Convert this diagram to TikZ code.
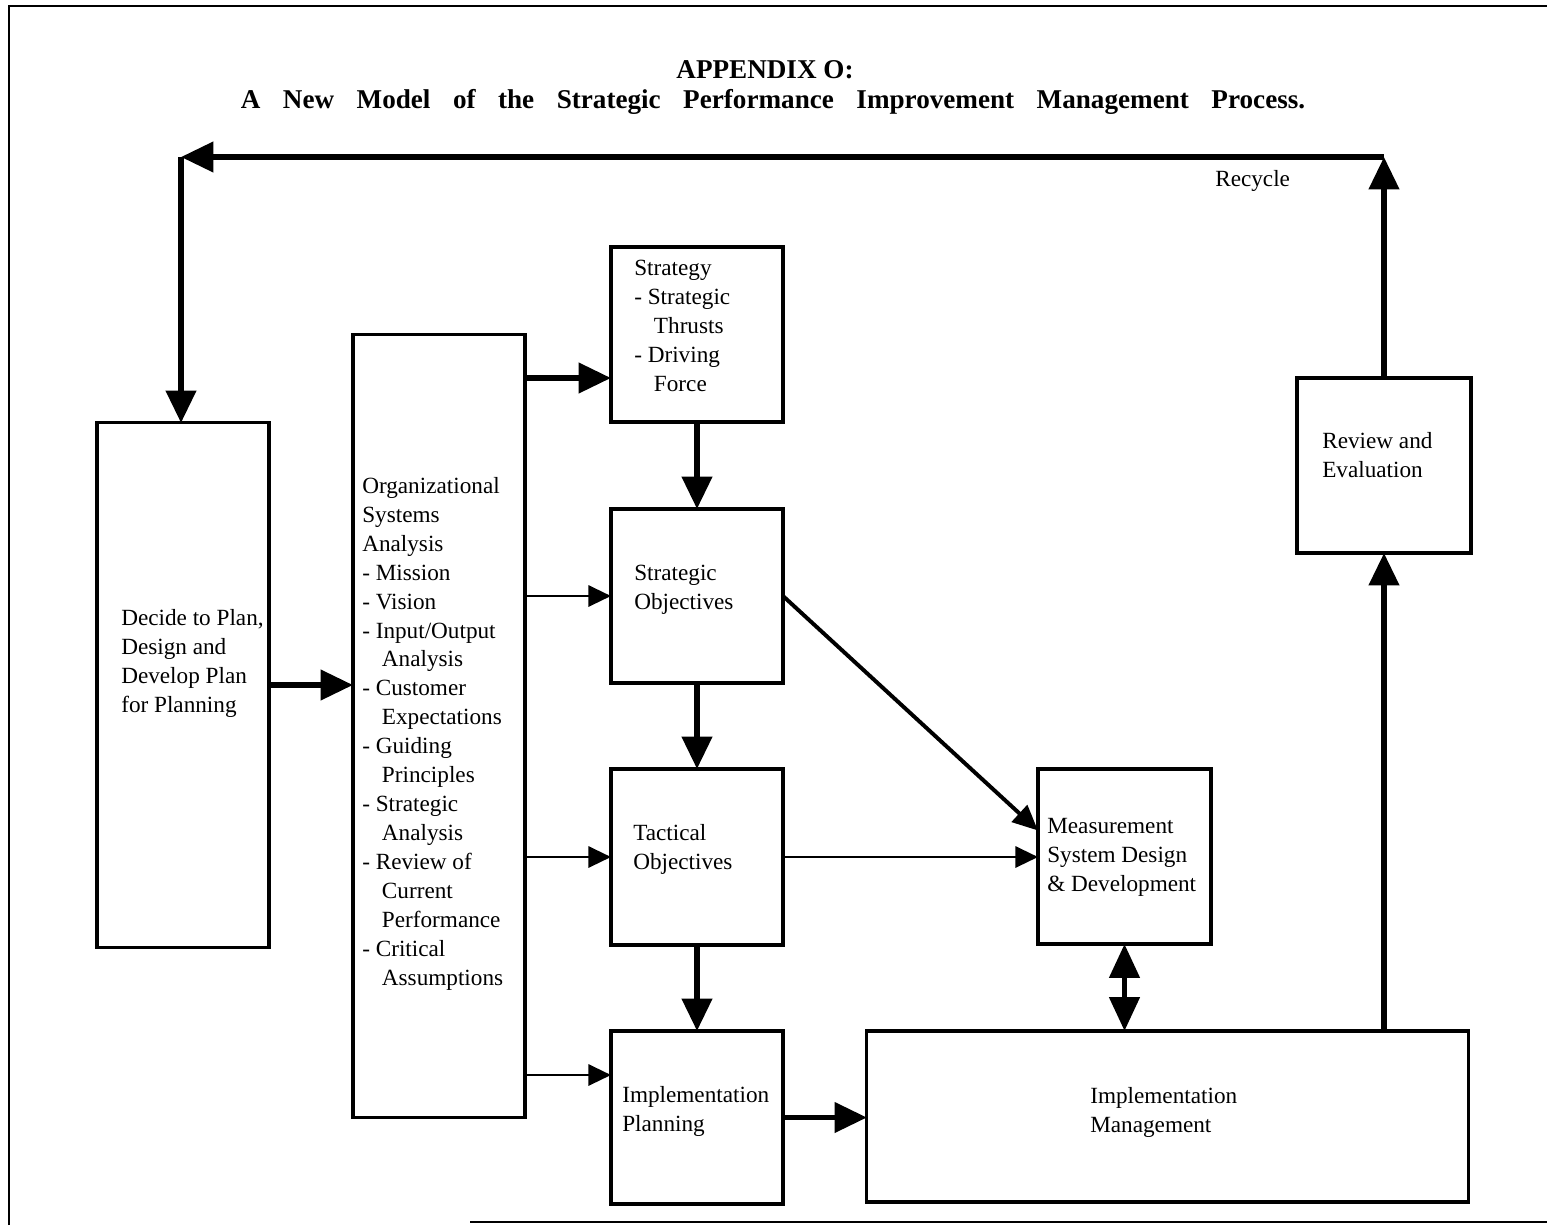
\documentclass[tikz,border=0pt]{standalone}
\usepackage{fontspec}
\setmainfont{Liberation Serif}
\usetikzlibrary{arrows.meta,calc}
\newcommand\diagfont{\fontsize{16.5}{20.6}\selectfont}
\newcommand\contind{\hspace*{14pt}}
\begin{document}
\begin{tikzpicture}[x=0.025cm,y=-0.025cm,
  box/.style={draw,line width=2.2pt,outer sep=0pt,inner sep=0pt},
  txt/.style={anchor=north west,inner sep=0pt,align=left,font=\diagfont},
  bigarrow/.style={line width=4pt,-{Triangle[length=23pt,width=21pt]}},
  midarrow/.style={line width=2.8pt,-{Triangle[length=18pt,width=16pt]}},
  thinarrow/.style={line width=1.8pt,-{Triangle[length=16pt,width=15pt]}},
  twoway/.style={line width=4pt,{Triangle[length=24pt,width=21pt]}-{Triangle[length=24pt,width=21pt]}},
]
\useasboundingbox (0,0) rectangle (1547,1225);

% page frame
\draw[line width=2.1pt] (9,1225) -- (9,6);
\draw[line width=1.5pt] (8,6) -- (1547,6);
\draw[line width=1.4pt] (470,1222) -- (1547,1222);

% title
\node[anchor=base,inner sep=0pt,font=\fontsize{19.3}{23}\selectfont\bfseries] (title1) at (765,78) {APPENDIX O:};
\node[anchor=base,inner sep=0pt,font=\fontsize{19.3}{23}\selectfont\bfseries] (title2) at (773,108)
  {\makebox[26.6cm][s]{A New Model of the Strategic Performance Improvement Management Process.}};

% boxes
\node[box,minimum width=4.3cm,minimum height=13.1cm] (dec) at (183,685) {};
\node[box,minimum width=4.3cm,minimum height=19.55cm] (osa) at (439,726) {};
\node[box,minimum width=4.3cm,minimum height=4.375cm] (str) at (697,334.5) {};
\node[box,minimum width=4.3cm,minimum height=4.35cm] (so) at (697,596) {};
\node[box,minimum width=4.3cm,minimum height=4.4cm] (to) at (697,857) {};
\node[box,minimum width=4.3cm,minimum height=4.325cm] (ip) at (697,1117.5) {};
\node[box,minimum width=4.325cm,minimum height=4.375cm] (msd) at (1124.5,856.5) {};
\node[box,minimum width=15.025cm,minimum height=4.275cm] (im) at (1167.5,1116.5) {};
\node[box,minimum width=4.35cm,minimum height=4.375cm] (rev) at (1384,465.5) {};

% box texts
\node[txt] (decT) at (121,604.6) {\strut Decide to Plan,\\Design and\\Develop Plan\\for Planning};
\node[txt] (osaT) at (362,472.6) {\strut Organizational\\Systems\\Analysis\\- Mission\\- Vision\\- Input/Output\\\contind Analysis\\- Customer\\\contind Expectations\\- Guiding\\\contind Principles\\- Strategic\\\contind Analysis\\- Review of\\\contind Current\\\contind Performance\\- Critical\\\contind Assumptions};
\node[txt] (strT) at (634,254.6) {\strut Strategy\\- Strategic\\\contind Thrusts\\- Driving\\\contind Force};
\node[txt] (soT) at (634,559.6) {\strut Strategic\\Objectives};
\node[txt] (toT) at (633,819.6) {\strut Tactical\\Objectives};
\node[txt] (ipT) at (622,1081.6) {\strut Implementation\\Planning};
\node[txt] (msdT) at (1047,812.6) {\strut Measurement\\System Design\\\& Development};
\node[txt] (imT) at (1090,1082.6) {\strut Implementation\\Management};
\node[txt] (revT) at (1322,427.6) {\strut Review and\\Evaluation};
\node[anchor=base west,inner sep=0pt,font=\diagfont] (recycle) at (1215,186) {Recycle};

% recycle loop
\coordinate (loopR) at (1384,157);
\coordinate (loopL) at (181,157);
\draw[bigarrow] (rev.north) -- (loopR);
\draw[bigarrow] (loopR) -- (loopL);
\draw[bigarrow] (loopL) -- (loopL |- dec.north);

% connectors
\draw[bigarrow] (dec.east) -- (osa.west |- dec.east);
\draw[bigarrow] (osa.east |- 0,378) -- (str.west |- 0,378);
\draw[thinarrow] (osa.east |- so.west) -- (so.west);
\draw[thinarrow] (osa.east |- to.west) -- (to.west);
\draw[thinarrow] (osa.east |- 0,1075) -- (ip.west |- 0,1075);
\draw[bigarrow] (str.south) -- (so.north);
\draw[bigarrow] (so.south) -- (to.north);
\draw[bigarrow] (to.south) -- (ip.north);
\draw[midarrow] (so.east) -- ($(msd.west)+(0,-26)$);
\draw[thinarrow] (to.east) -- (msd.west |- to.east);
\draw[bigarrow] (ip.east) -- (im.west |- ip.east);
\draw[twoway] (msd.south) -- (msd.south |- im.north);
\draw[bigarrow] (im.north -| rev.south) -- (rev.south);
\end{tikzpicture}
\end{document}
